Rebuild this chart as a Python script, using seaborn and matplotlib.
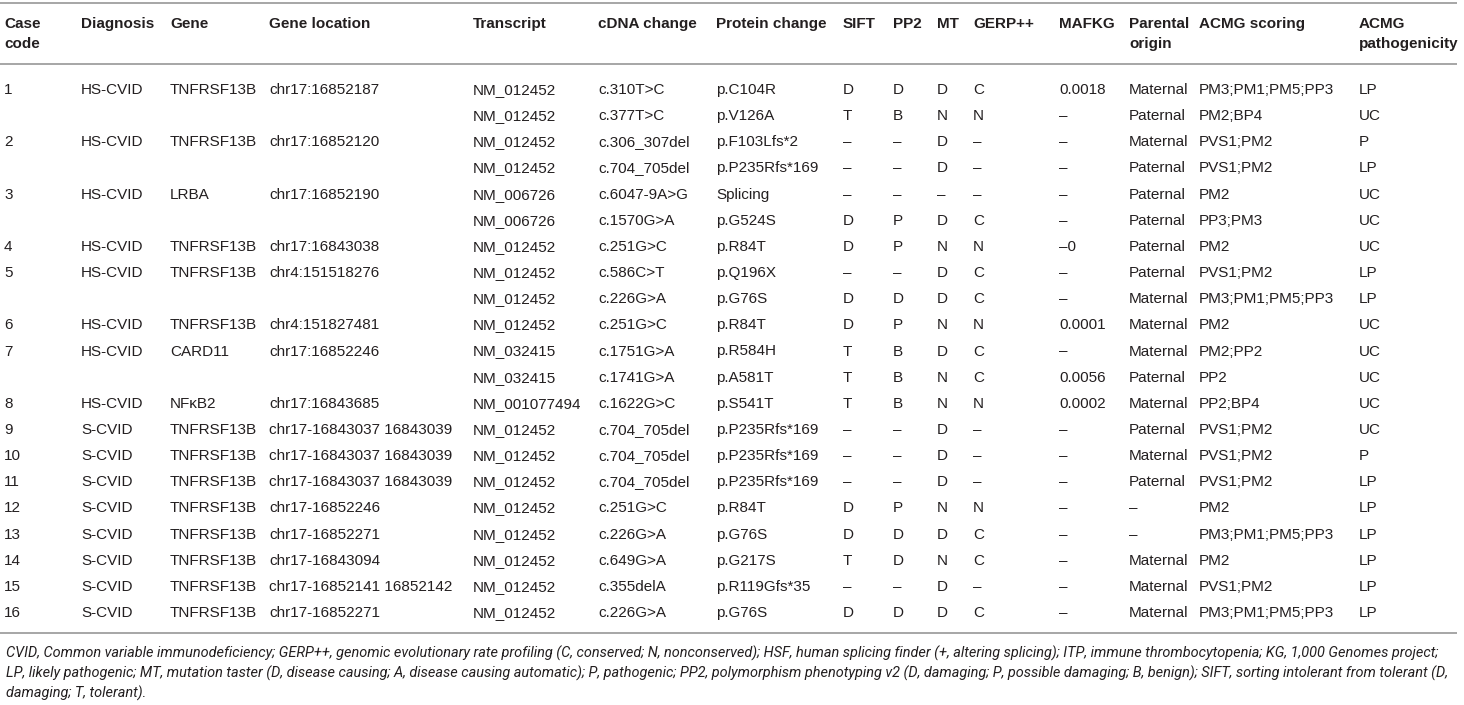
import matplotlib
matplotlib.use("Agg")
import matplotlib.pyplot as plt
import seaborn as sns

# column headers (one list entry per printed line)
headers = [["Case", "code"], ["Diagnosis"], ["Gene"], ["Gene location"], ["Transcript"],
           ["cDNA change"], ["Protein change"], ["SIFT"], ["PP2"], ["MT"], ["GERP++"],
           ["MAFKG"], ["Parental", "origin"], ["ACMG scoring"], ["ACMG", "pathogenicity"]]

case_code = ["1", "", "2", "", "3", "", "4", "5", "", "6", "7", "", "8",
             "9", "10", "11", "12", "13", "14", "15", "16"]
diagnosis = ["HS-CVID", "", "HS-CVID", "", "HS-CVID", "", "HS-CVID", "HS-CVID", "", "HS-CVID",
             "HS-CVID", "", "HS-CVID", "S-CVID", "S-CVID", "S-CVID", "S-CVID", "S-CVID",
             "S-CVID", "S-CVID", "S-CVID"]
gene = ["TNFRSF13B", "", "TNFRSF13B", "", "LRBA", "", "TNFRSF13B", "TNFRSF13B", "", "TNFRSF13B",
        "CARD11", "", "NFκB2", "TNFRSF13B", "TNFRSF13B", "TNFRSF13B", "TNFRSF13B", "TNFRSF13B",
        "TNFRSF13B", "TNFRSF13B", "TNFRSF13B"]
gene_location = ["chr17:16852187", "", "chr17:16852120", "", "chr17:16852190", "",
                 "chr17:16843038", "chr4:151518276", "", "chr4:151827481", "chr17:16852246", "",
                 "chr17:16843685", "chr17-16843037 16843039", "chr17-16843037 16843039",
                 "chr17-16843037 16843039", "chr17-16852246", "chr17-16852271",
                 "chr17-16843094", "chr17-16852141 16852142", "chr17-16852271"]
transcript = ["NM_012452", "NM_012452", "NM_012452", "NM_012452", "NM_006726", "NM_006726",
              "NM_012452", "NM_012452", "NM_012452", "NM_012452", "NM_032415", "NM_032415",
              "NM_001077494", "NM_012452", "NM_012452", "NM_012452", "NM_012452", "NM_012452",
              "NM_012452", "NM_012452", "NM_012452"]
cdna_change = ["c.310T>C", "c.377T>C", "c.306_307del", "c.704_705del", "c.6047-9A>G",
               "c.1570G>A", "c.251G>C", "c.586C>T", "c.226G>A", "c.251G>C", "c.1751G>A",
               "c.1741G>A", "c.1622G>C", "c.704_705del", "c.704_705del", "c.704_705del",
               "c.251G>C", "c.226G>A", "c.649G>A", "c.355delA", "c.226G>A"]
protein_change = ["p.C104R", "p.V126A", "p.F103Lfs*2", "p.P235Rfs*169", "Splicing", "p.G524S",
                  "p.R84T", "p.Q196X", "p.G76S", "p.R84T", "p.R584H", "p.A581T", "p.S541T",
                  "p.P235Rfs*169", "p.P235Rfs*169", "p.P235Rfs*169", "p.R84T", "p.G76S",
                  "p.G217S", "p.R119Gfs*35", "p.G76S"]
sift = ["D", "T", "–", "–", "–", "D", "D", "–", "D", "D", "T", "T", "T",
        "–", "–", "–", "D", "D", "T", "–", "D"]
pp2 = ["D", "B", "–", "–", "–", "P", "P", "–", "D", "P", "B", "B", "B",
       "–", "–", "–", "P", "D", "D", "–", "D"]
mt = ["D", "N", "D", "D", "–", "D", "N", "D", "D", "N", "D", "N", "N",
      "D", "D", "D", "N", "D", "N", "D", "D"]
gerp = ["C", "N", "–", "–", "–", "C", "N", "C", "C", "N", "C", "C", "N",
        "–", "–", "–", "N", "C", "C", "–", "C"]
mafkg = ["0.0018", "–", "–", "–", "–", "–", "–0", "–", "–", "0.0001", "–", "0.0056", "0.0002",
         "–", "–", "–", "–", "–", "–", "–", "–"]
parental_origin = ["Maternal", "Paternal", "Maternal", "Paternal", "Paternal", "Paternal",
                   "Paternal", "Paternal", "Maternal", "Maternal", "Maternal", "Paternal",
                   "Maternal", "Paternal", "Maternal", "Paternal", "–", "–", "Maternal",
                   "Maternal", "Maternal"]
acmg_scoring = ["PM3;PM1;PM5;PP3", "PM2;BP4", "PVS1;PM2", "PVS1;PM2", "PM2", "PP3;PM3", "PM2",
                "PVS1;PM2", "PM3;PM1;PM5;PP3", "PM2", "PM2;PP2", "PP2", "PP2;BP4", "PVS1;PM2",
                "PVS1;PM2", "PVS1;PM2", "PM2", "PM3;PM1;PM5;PP3", "PM2", "PVS1;PM2",
                "PM3;PM1;PM5;PP3"]
acmg_pathogenicity = ["LP", "UC", "P", "LP", "UC", "UC", "UC", "LP", "LP", "UC", "UC", "UC", "UC",
                      "UC", "P", "LP", "LP", "LP", "LP", "LP", "LP"]

footnote = [
    "CVID, Common variable immunodeficiency; GERP++, genomic evolutionary rate profiling "
    "(C, conserved; N, nonconserved); HSF, human splicing finder (+, altering splicing); "
    "ITP, immune thrombocytopenia; KG, 1,000 Genomes project;",
    "LP, likely pathogenic; MT, mutation taster (D, disease causing; A, disease causing automatic); "
    "P, pathogenic; PP2, polymorphism phenotyping v2 (D, damaging; P, possible damaging; B, benign); "
    "SIFT, sorting intolerant from tolerant (D,",
    "damaging; T, tolerant).",
]

columns = [case_code, diagnosis, gene, gene_location, transcript, cdna_change, protein_change,
           sift, pp2, mt, gerp, mafkg, parental_origin, acmg_scoring, acmg_pathogenicity]

# layout, in pixels of the 1464x705 page
col_x = [4, 81, 170, 269, 473, 598, 716, 843, 893, 937, 973, 1059, 1129, 1199, 1359]
first_row_y = 88.5
row_step = 26.15
half_cap = 5.5          # baseline sits this far below the middle of the capitals
text_color = "#231f20"
rule_color = "#a6a6a6"

sns.set_style("white")
plt.rcParams["font.family"] = ["Liberation Sans", "DejaVu Sans"]

fig = plt.figure(figsize=(14.64, 7.05), dpi=100)
ax = fig.add_axes([0, 0, 1, 1])
ax.set_xlim(0, 1464)
ax.set_ylim(705, 0)
ax.axis("off")

# rules
for y in (3, 64, 633):
    ax.plot([0, 1457], [y, y], color=rule_color, lw=1.4, solid_capstyle="butt")

# header
for x, lines in zip(col_x, headers):
    for k, line in enumerate(lines):
        ax.text(x, 22.5 + 20 * k + half_cap, line, fontsize=11, fontweight="bold",
                color=text_color, va="baseline", ha="left")

# body
for x, values in zip(col_x, columns):
    for i, v in enumerate(values):
        if v:
            ax.text(x, first_row_y + i * row_step + half_cap, v, fontsize=11,
                    color=text_color, va="baseline", ha="left")

# footnote, fitted so the longest line spans the table
foot_family = ["Roboto", "Liberation Sans", "DejaVu Sans"]
fig.canvas.draw()
renderer = fig.canvas.get_renderer()
widest = 0
for line in footnote:
    probe = ax.text(0, 0, line, fontsize=11, style="italic", family=foot_family)
    widest = max(widest, probe.get_window_extent(renderer).width)
    probe.remove()
foot_size = 11 * 1448 / widest
for k, line in enumerate(footnote):
    ax.text(6, 652 + 20 * k + foot_size * 100 / 72 * 0.36, line, fontsize=foot_size,
            style="italic", color=text_color, family=foot_family,
            va="baseline", ha="left")

fig.savefig("out.png", dpi=100, facecolor="white")
